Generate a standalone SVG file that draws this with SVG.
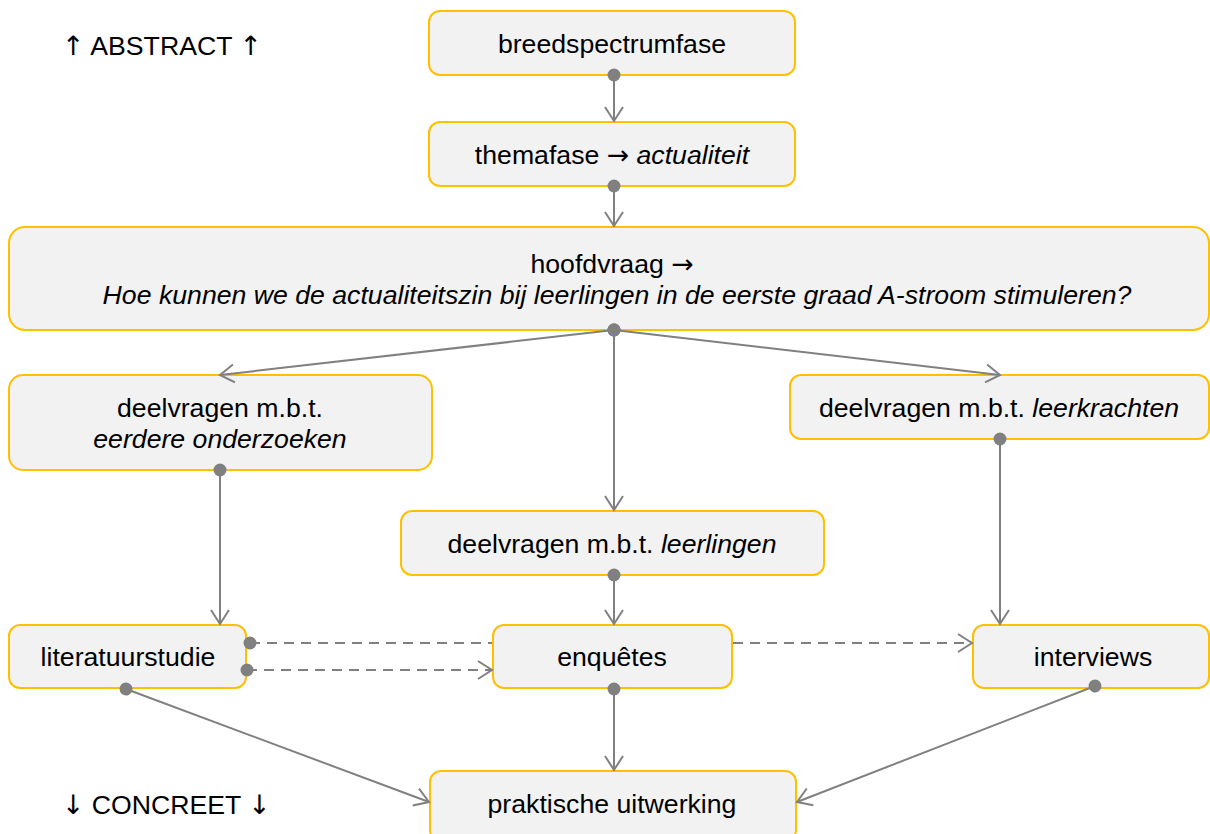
<svg xmlns="http://www.w3.org/2000/svg" width="1210" height="834" viewBox="0 0 1210 834">
<style>
.box{fill:#f2f2f2;stroke:#ffc000;stroke-width:2}
.t{font-family:"Liberation Sans",Arial,sans-serif;font-size:26.67px;fill:#000;text-anchor:middle}
.lbl{font-family:"Liberation Sans",Arial,sans-serif;font-size:26.67px;fill:#000}
.ar{font-family:"DejaVu Sans",sans-serif;font-style:normal}
.c{fill:none;stroke:#808080;stroke-width:2}
.d{stroke-dasharray:10 7}
</style>
<defs>
<marker id="dot" markerUnits="userSpaceOnUse" markerWidth="14" markerHeight="14" refX="7" refY="7" orient="auto">
<circle cx="7" cy="7" r="6.5" fill="#808080"/>
</marker>
<marker id="arr" markerUnits="userSpaceOnUse" markerWidth="20" markerHeight="22" refX="17" refY="11" orient="auto">
<path d="M3,2 L17,11 L3,20" fill="none" stroke="#808080" stroke-width="2"/>
</marker>
</defs>
<rect width="1210" height="834" fill="#fff"/>
<g id="n-breed"><rect class="box" x="429" y="11" width="366" height="64" rx="11"/><text class="t" x="612" y="53">breedspectrumfase</text></g>
<g id="n-thema"><rect class="box" x="429" y="122" width="366" height="64" rx="11"/><text class="t" x="612" y="164">themafase <tspan class="ar">→</tspan> <tspan font-style="italic">actualiteit</tspan></text></g>
<g id="n-hoofd"><rect class="box" x="9" y="227" width="1200" height="103" rx="16"/><text class="t" x="612" y="273">hoofdvraag <tspan class="ar">→</tspan></text><text class="t" x="617" y="304" font-style="italic">Hoe kunnen we de actualiteitszin bij leerlingen in de eerste graad A-stroom stimuleren?</text></g>
<g id="n-eerder"><rect class="box" x="9" y="375" width="423" height="95" rx="14"/><text class="t" x="220" y="417">deelvragen m.b.t.</text><text class="t" x="220" y="448" font-style="italic">eerdere onderzoeken</text></g>
<g id="n-leerkrachten"><rect class="box" x="790" y="375" width="419" height="64" rx="11"/><text class="t" x="999" y="417">deelvragen m.b.t. <tspan font-style="italic">leerkrachten</tspan></text></g>
<g id="n-leerlingen"><rect class="box" x="401" y="511" width="423" height="64" rx="11"/><text class="t" x="612" y="553">deelvragen m.b.t. <tspan font-style="italic">leerlingen</tspan></text></g>
<g id="n-literatuur"><rect class="box" x="9" y="625" width="237" height="63" rx="11"/><text class="t" x="128" y="666">literatuurstudie</text></g>
<g id="n-enquetes"><rect class="box" x="493" y="625" width="239" height="63" rx="11"/><text class="t" x="612" y="666">enquêtes</text></g>
<g id="n-interviews"><rect class="box" x="973" y="625" width="236" height="63" rx="11"/><text class="t" x="1093" y="666">interviews</text></g>
<g id="n-praktisch"><rect class="box" x="430" y="771" width="366" height="70" rx="11"/><text class="t" x="612" y="813">praktische uitwerking</text></g>
<g id="connectors">
<path class="c" d="M614,75 L614,121" marker-start="url(#dot)" marker-end="url(#arr)"/>
<path class="c" d="M614,186 L614,226" marker-start="url(#dot)" marker-end="url(#arr)"/>
<path class="c" d="M614,330 L220,375" marker-start="url(#dot)" marker-end="url(#arr)"/>
<path class="c" d="M614,330 L614,510" marker-start="url(#dot)" marker-end="url(#arr)"/>
<path class="c" d="M614,330 L1000,375" marker-start="url(#dot)" marker-end="url(#arr)"/>
<path class="c" d="M220,470 L220,624" marker-start="url(#dot)" marker-end="url(#arr)"/>
<path class="c" d="M1000,439 L1000,624" marker-start="url(#dot)" marker-end="url(#arr)"/>
<path class="c" d="M614,575 L614,624" marker-start="url(#dot)" marker-end="url(#arr)"/>
<path class="c d" d="M250,643 L492,643 M733,643 L972,643" marker-start="url(#dot)" marker-end="url(#arr)"/>
<path class="c d" d="M247,670 L492,670" marker-start="url(#dot)" marker-end="url(#arr)"/>
<path class="c" d="M614,689 L614,770" marker-start="url(#dot)" marker-end="url(#arr)"/>
<path class="c" d="M126,689 L429,802" marker-start="url(#dot)" marker-end="url(#arr)"/>
<path class="c" d="M1095,686 L797,802" marker-start="url(#dot)" marker-end="url(#arr)"/>
</g>
<text class="lbl" x="62" y="55"><tspan class="ar">↑</tspan> ABSTRACT <tspan class="ar">↑</tspan></text>
<text class="lbl" x="62" y="814"><tspan class="ar">↓</tspan> CONCREET <tspan class="ar">↓</tspan></text>
</svg>
